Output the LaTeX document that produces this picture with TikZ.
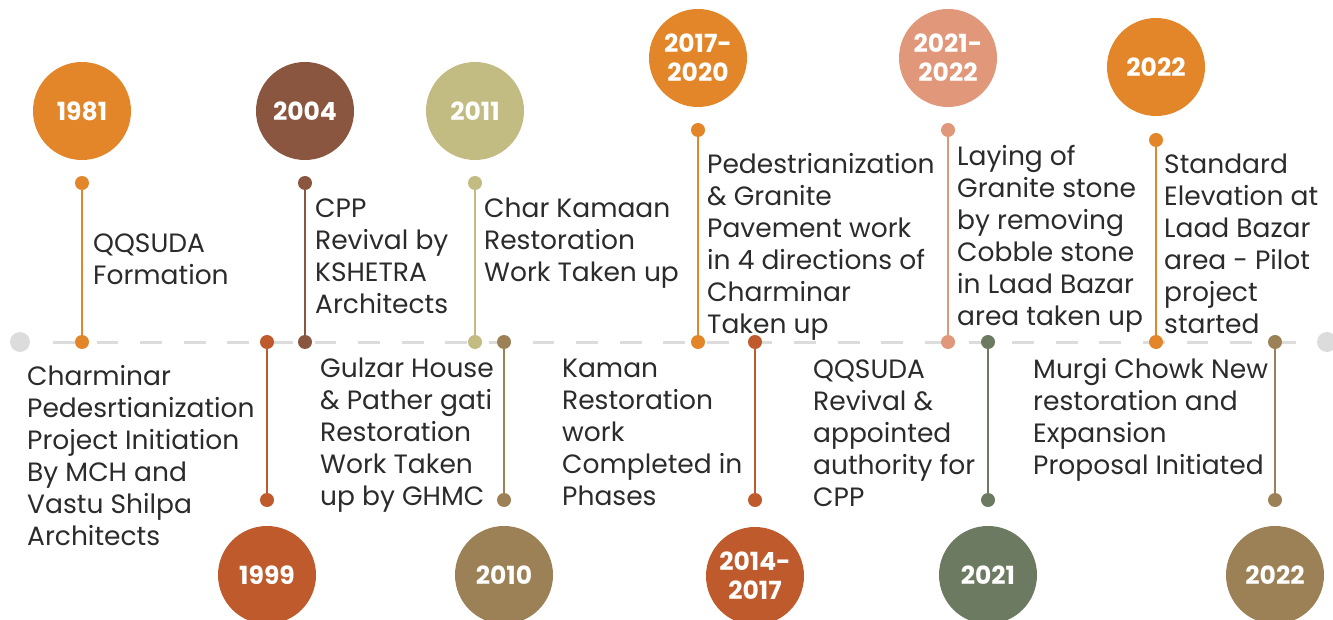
\documentclass[tikz,border=0pt]{standalone}
\usepackage{fontspec}
\setmainfont{Poppins}
\usetikzlibrary{positioning}
\definecolor{tlOrange}{HTML}{E3862A}
\definecolor{tlBrown}{HTML}{8A563F}
\definecolor{tlKhaki}{HTML}{C3BC82}
\definecolor{tlRust}{HTML}{BE5A2C}
\definecolor{tlOlive}{HTML}{9B8155}
\definecolor{tlSalmon}{HTML}{E0977A}
\definecolor{tlSage}{HTML}{6D7A62}
\definecolor{tlDash}{HTML}{DCDCDC}
\definecolor{tlText}{HTML}{2B2B2B}
\tikzstyle{year}=[circle, minimum size=98pt, inner sep=0pt, text=white, align=center, font=\fontsize{25}{29}\bfseries\selectfont]
\tikzstyle{pin}=[circle, minimum size=14pt, inner sep=0pt]
\tikzstyle{endcap}=[circle, fill=tlDash, minimum size=20pt, inner sep=0pt]
\tikzstyle{stem}=[line width=2.5pt]
\tikzstyle{timeline}=[tlDash, line width=3pt, dash pattern=on 21.8pt off 21.8pt]
\tikzstyle{note}=[anchor=north west, inner sep=0pt, align=left, text=tlText, font=\fontsize{26.5}{32}\selectfont]

\begin{document}
\begin{tikzpicture}[x=1pt, y=-1pt]
				\useasboundingbox (0,0) rectangle (1333,620);

				% Timeline
				\node[endcap] (tlStart) at (20,342) {};
				\node[endcap] (tlEnd) at (1327,342) {};
				\coordinate (dashA) at (53,342);
				\coordinate (dashB) at (1303,342);
				\draw[timeline] (dashA) -- (dashB);

				% Events above the line
				\node[year, fill=tlOrange] (y1981) at (82,111) {1981};
				\node[pin, fill=tlOrange] (p1981a) at (82,183) {};
				\node[pin, fill=tlOrange] (p1981b) at (82,342) {};
				\draw[stem, tlOrange] (p1981a) -- (p1981b);
				\node[note] (n1981) at (93,229.6) {\strut QQSUDA\\Formation};

				\node[year, fill=tlBrown] (y2004) at (305,111) {2004};
				\node[pin, fill=tlBrown] (p2004a) at (305,183) {};
				\node[pin, fill=tlBrown] (p2004b) at (305,342) {};
				\draw[stem, tlBrown] (p2004a) -- (p2004b);
				\node[note] (n2004) at (315,194.6) {\strut CPP\\Revival by\\KSHETRA\\Architects};

				\node[year, fill=tlKhaki] (y2011) at (475,111) {2011};
				\node[pin, fill=tlKhaki] (p2011a) at (475,183) {};
				\node[pin, fill=tlKhaki] (p2011b) at (475,342) {};
				\draw[stem, tlKhaki] (p2011a) -- (p2011b);
				\node[note] (n2011) at (484,194.6) {\strut Char Kamaan\\Restoration\\Work Taken up};

				\node[year, fill=tlOrange] (y2017) at (698,58) {2017-\\2020};
				\node[pin, fill=tlOrange] (p2017a) at (698,130) {};
				\node[pin, fill=tlOrange] (p2017b) at (698,342) {};
				\draw[stem, tlOrange] (p2017a) -- (p2017b);
				\node[note] (n2017) at (707,150.6) {\strut Pedestrianization\\\& Granite\\Pavement work\\in 4 directions of\\Charminar\\Taken up};

				\node[year, fill=tlSalmon] (y2021a) at (948,58) {2021-\\2022};
				\node[pin, fill=tlSalmon] (p2021a) at (948,130) {};
				\node[pin, fill=tlSalmon] (p2021b) at (948,342) {};
				\draw[stem, tlSalmon] (p2021a) -- (p2021b);
				\node[note] (n2021a) at (957,142.6) {\strut Laying of\\Granite stone\\by removing\\Cobble stone\\in Laad Bazar\\area taken up};

				\node[year, fill=tlOrange] (y2022a) at (1156,67) {2022};
				\node[pin, fill=tlOrange] (p2022a) at (1156,140) {};
				\node[pin, fill=tlOrange] (p2022b) at (1156,342) {};
				\draw[stem, tlOrange] (p2022a) -- (p2022b);
				\node[note] (n2022a) at (1164,150.6) {\strut Standard\\Elevation at\\Laad Bazar\\area - Pilot\\project\\started};

				% Events below the line
				\node[year, fill=tlRust] (y1999) at (267,575) {1999};
				\node[pin, fill=tlRust] (p1999a) at (267,342) {};
				\node[pin, fill=tlRust] (p1999b) at (267,500) {};
				\draw[stem, tlRust] (p1999a) -- (p1999b);
				\node[note] (n1999) at (27,362.6) {\strut Charminar\\Pedesrtianization\\Project Initiation\\By MCH and\\Vastu Shilpa\\Architects};

				\node[year, fill=tlOlive] (y2010) at (504,575) {2010};
				\node[pin, fill=tlOlive] (p2010a) at (504,342) {};
				\node[pin, fill=tlOlive] (p2010b) at (504,500) {};
				\draw[stem, tlOlive] (p2010a) -- (p2010b);
				\node[note] (n2010) at (320,354.6) {\strut Gulzar House\\\& Pather gati\\Restoration\\Work Taken\\up by GHMC};

				\node[year, fill=tlRust] (y2014) at (755,576) {2014-\\2017};
				\node[pin, fill=tlRust] (p2014a) at (755,342) {};
				\node[pin, fill=tlRust] (p2014b) at (755,500) {};
				\draw[stem, tlRust] (p2014a) -- (p2014b);
				\node[note] (n2014) at (562,354.6) {\strut Kaman\\Restoration\\work\\Completed in\\Phases};

				\node[year, fill=tlSage] (y2021b) at (988,575) {2021};
				\node[pin, fill=tlSage] (p2021c) at (988,342) {};
				\node[pin, fill=tlSage] (p2021d) at (988,500) {};
				\draw[stem, tlSage] (p2021c) -- (p2021d);
				\node[note] (n2021b) at (813,355.6) {\strut QQSUDA\\Revival \&\\appointed\\authority for\\CPP};

				\node[year, fill=tlOlive] (y2022b) at (1275,575) {2022};
				\node[pin, fill=tlOlive] (p2022c) at (1275,342) {};
				\node[pin, fill=tlOlive] (p2022d) at (1275,500) {};
				\draw[stem, tlOlive] (p2022c) -- (p2022d);
				\node[note] (n2022b) at (1033,355.6) {\strut Murgi Chowk New\\restoration and\\Expansion\\Proposal Initiated};
			\end{tikzpicture}
\end{document}
